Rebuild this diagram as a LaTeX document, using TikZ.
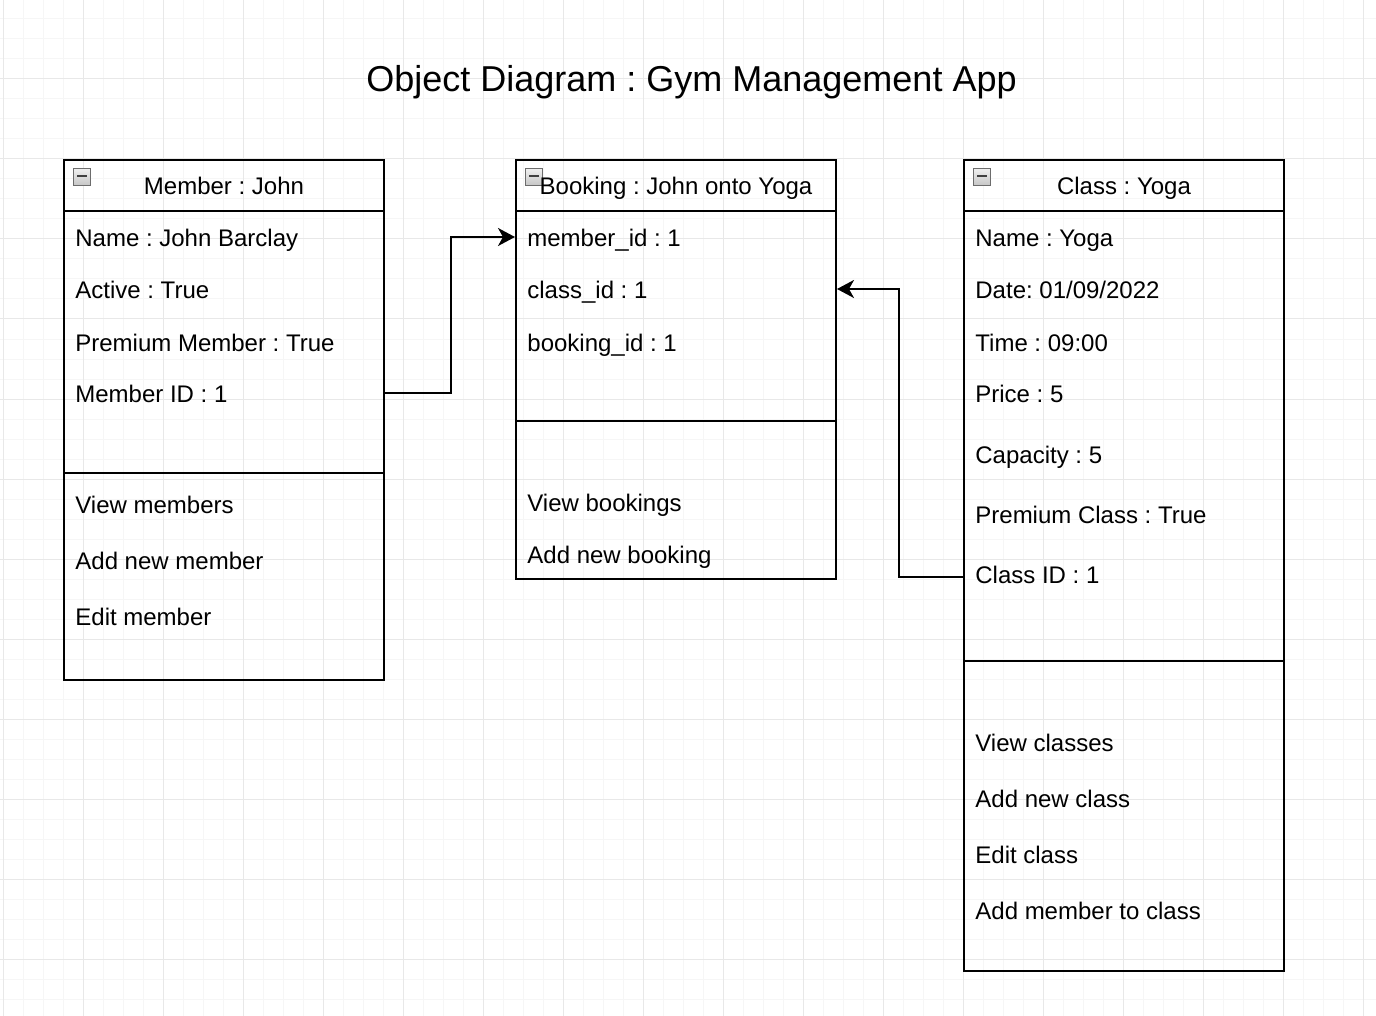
\documentclass[tikz,border=0pt]{standalone}
\usepackage{fontspec}
\setmainfont{Liberation Sans}
\usetikzlibrary{arrows.meta}
\frenchspacing

\definecolor{gridminor}{RGB}{246,246,246}
\definecolor{gridmajor}{RGB}{232,232,232}

\tikzset{
  objbox/.style={draw, line width=1pt, anchor=north west, minimum width=160pt, inner sep=0pt},
  slot/.style={anchor=base west, inner sep=0pt, font=\fontsize{12}{14}\selectfont},
  head/.style={anchor=base, inner sep=0pt, font=\fontsize{12}{14}\selectfont},
  toggle/.style={draw=gray!85!black, line width=0.5pt, top color=gray!12, bottom color=gray!45,
    anchor=north west, minimum size=8.5pt, inner sep=0pt,
    path picture={\draw[line width=1pt, black!75]
      ([xshift=1.8pt,yshift=0.6pt]path picture bounding box.west) --
      ([xshift=-1.8pt,yshift=0.6pt]path picture bounding box.east);}},
  link/.style={line width=1pt, -{Stealth[length=8.5pt, width=9pt, inset=2.5pt]}},
}

\begin{document}
\begin{tikzpicture}[x=0.5pt, y=-0.5pt]
    \useasboundingbox (0,0) rectangle (1376,1016);
    \fill[white] (0,0) rectangle (1376,1016);

    % grid
    \foreach \gx in {3,23,...,1376}
      \draw[gridminor, line width=0.5pt] (\gx,0) -- (\gx,1016);
    \foreach \gy in {19,39,...,1016}
      \draw[gridminor, line width=0.5pt] (0,\gy) -- (1376,\gy);
    \foreach \gx in {3,83,...,1376}
      \draw[gridmajor, line width=0.5pt] (\gx,0) -- (\gx,1016);
    \foreach \gy in {79,159,...,1016}
      \draw[gridmajor, line width=0.5pt] (0,\gy) -- (1376,\gy);

    \node[head, font=\fontsize{18}{22}\selectfont] (title) at (691.5,92)
      {Object Diagram : Gym Management App};

    % objects
    \node[objbox, minimum height=260pt] (member) at (63,159) {};
    \node[objbox, minimum height=209.5pt] (booking) at (515,159) {};
    \node[objbox, minimum height=405.5pt] (yoga) at (963,159) {};

    \node[toggle] (mtoggle) at (73,168) {};
    \node[toggle] (btoggle) at (525,168) {};
    \node[toggle] (ytoggle) at (973,168) {};

    \node[head] (mhead) at ([yshift=-18pt]member.north) {Member : John};
    \node[head] (bhead) at ([yshift=-18pt]booking.north) {Booking : John onto Yoga};
    \node[head] (yhead) at ([yshift=-18pt]yoga.north) {Class : Yoga};

    \draw[line width=1pt] ([yshift=-26pt]member.north west) -- ([yshift=-26pt]member.north east);
    \draw[line width=1pt] ([yshift=-157pt]member.north west) -- ([yshift=-157pt]member.north east);
    \draw[line width=1pt] ([yshift=-26pt]booking.north west) -- ([yshift=-26pt]booking.north east);
    \draw[line width=1pt] ([yshift=-131pt]booking.north west) -- ([yshift=-131pt]booking.north east);
    \draw[line width=1pt] ([yshift=-26pt]yoga.north west) -- ([yshift=-26pt]yoga.north east);
    \draw[line width=1pt] ([yshift=-251pt]yoga.north west) -- ([yshift=-251pt]yoga.north east);

    % member
    \node[slot] (mname) at (75,247) {Name : John Barclay};
    \node[slot] (mactive) at (75,299) {Active : True};
    \node[slot] (mprem) at (75,351) {Premium Member : True};
    \node[slot] (mid) at (75,402) {Member ID : 1};
    \node[slot] (mview) at (75,513) {View members};
    \node[slot] (madd) at (75,569) {Add new member};
    \node[slot] (medit) at (75,625) {Edit member};

    % booking
    \node[slot] (bmember) at (527,247) {member\_id : 1};
    \node[slot] (bclass) at (527,299) {class\_id : 1};
    \node[slot] (bid) at (527,351) {booking\_id : 1};
    \node[slot] (bview) at (527,511) {View bookings};
    \node[slot] (badd) at (527,563) {Add new booking};

    % class
    \node[slot] (yname) at (975,247) {Name : Yoga};
    \node[slot] (ydate) at (975,299) {Date: 01/09/2022};
    \node[slot] (ytime) at (975,351) {Time : 09:00};
    \node[slot] (yprice) at (975,402) {Price : 5};
    \node[slot] (ycap) at (975,463) {Capacity : 5};
    \node[slot] (yprem) at (975,523) {Premium Class : True};
    \node[slot] (yid) at (975,583) {Class ID : 1};
    \node[slot] (yview) at (975,751) {View classes};
    \node[slot] (yadd) at (975,807) {Add new class};
    \node[slot] (yedit) at (975,863) {Edit class};
    \node[slot] (yaddm) at (975,919) {Add member to class};

    % connector pins
    \coordinate (mpin) at ([yshift=4.5pt]mid.base west);
    \coordinate (bmpin) at ([yshift=5pt]bmember.base west);
    \coordinate (bcpin) at ([yshift=5pt]bclass.base west);
    \coordinate (ypin) at ([yshift=3pt]yid.base west);

    \draw[link] (member.east |- mpin) -- ++(66,0) |- (booking.west |- bmpin);
    \draw[link] (yoga.west |- ypin) -- ++(-64,0) |- (booking.east |- bcpin);
\end{tikzpicture}
\end{document}
